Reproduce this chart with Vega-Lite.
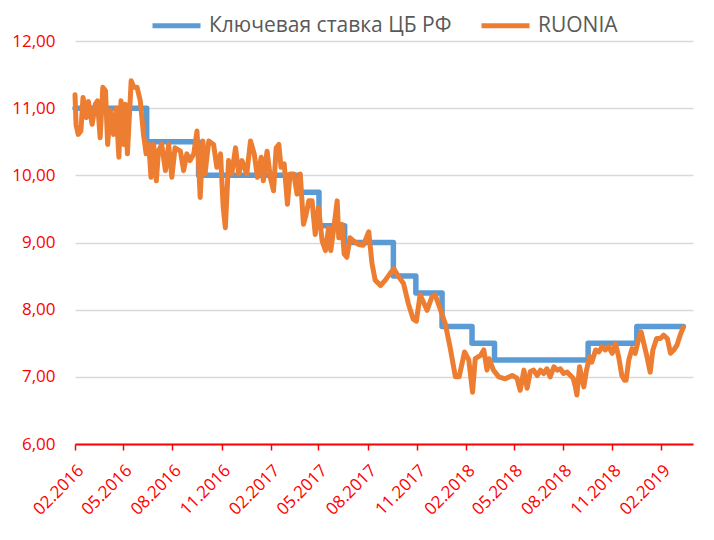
{
  "$schema": "https://vega.github.io/schema/vega-lite/v6.json",
  "width": 618,
  "height": 403,
  "autosize": {"type": "none"},
  "padding": {"left": 75, "top": 41, "right": 21, "bottom": 96},
  "background": "white",
  "config": {
    "view": {"stroke": null},
    "font": "Open Sans",
    "legend": {
      "orient": "none",
      "legendX": 75,
      "legendY": -42,
      "direction": "horizontal",
      "symbolType": "stroke",
      "symbolStrokeWidth": 5,
      "symbolSize": 2304,
      "labelFontSize": 21,
      "labelFont": "Open Sans",
      "labelColor": "#595959",
      "labelOffset": 6,
      "columnPadding": 19,
      "labelLimit": 400
    }
  },
  "data": {
    "values": [
      {"date": "2016-02-01", "series": "Ключевая ставка ЦБ РФ", "value": 11.00},
      {"date": "2016-06-14", "series": "Ключевая ставка ЦБ РФ", "value": 10.50},
      {"date": "2016-09-19", "series": "Ключевая ставка ЦБ РФ", "value": 10.00},
      {"date": "2017-03-27", "series": "Ключевая ставка ЦБ РФ", "value": 9.75},
      {"date": "2017-05-02", "series": "Ключевая ставка ЦБ РФ", "value": 9.25},
      {"date": "2017-06-19", "series": "Ключевая ставка ЦБ РФ", "value": 9.00},
      {"date": "2017-09-18", "series": "Ключевая ставка ЦБ РФ", "value": 8.50},
      {"date": "2017-10-30", "series": "Ключевая ставка ЦБ РФ", "value": 8.25},
      {"date": "2017-12-18", "series": "Ключевая ставка ЦБ РФ", "value": 7.75},
      {"date": "2018-02-12", "series": "Ключевая ставка ЦБ РФ", "value": 7.50},
      {"date": "2018-03-26", "series": "Ключевая ставка ЦБ РФ", "value": 7.25},
      {"date": "2018-09-17", "series": "Ключевая ставка ЦБ РФ", "value": 7.50},
      {"date": "2018-12-17", "series": "Ключевая ставка ЦБ РФ", "value": 7.75},
      {"date": "2019-03-14", "series": "Ключевая ставка ЦБ РФ", "value": 7.75},
      {"date": "2016-02-01", "series": "RUONIA", "value": 11.20},
      {"date": "2016-02-03", "series": "RUONIA", "value": 10.75},
      {"date": "2016-02-07", "series": "RUONIA", "value": 10.61},
      {"date": "2016-02-12", "series": "RUONIA", "value": 10.66},
      {"date": "2016-02-16", "series": "RUONIA", "value": 11.16},
      {"date": "2016-02-22", "series": "RUONIA", "value": 10.86},
      {"date": "2016-02-26", "series": "RUONIA", "value": 11.10},
      {"date": "2016-03-04", "series": "RUONIA", "value": 10.76},
      {"date": "2016-03-10", "series": "RUONIA", "value": 11.06},
      {"date": "2016-03-14", "series": "RUONIA", "value": 11.11},
      {"date": "2016-03-19", "series": "RUONIA", "value": 10.56},
      {"date": "2016-03-24", "series": "RUONIA", "value": 11.31},
      {"date": "2016-03-29", "series": "RUONIA", "value": 11.26},
      {"date": "2016-04-02", "series": "RUONIA", "value": 10.46},
      {"date": "2016-04-07", "series": "RUONIA", "value": 10.96},
      {"date": "2016-04-13", "series": "RUONIA", "value": 10.61},
      {"date": "2016-04-18", "series": "RUONIA", "value": 11.00},
      {"date": "2016-04-23", "series": "RUONIA", "value": 10.27},
      {"date": "2016-04-27", "series": "RUONIA", "value": 11.11},
      {"date": "2016-05-02", "series": "RUONIA", "value": 10.46},
      {"date": "2016-05-05", "series": "RUONIA", "value": 11.06},
      {"date": "2016-05-09", "series": "RUONIA", "value": 10.32},
      {"date": "2016-05-16", "series": "RUONIA", "value": 11.41},
      {"date": "2016-05-21", "series": "RUONIA", "value": 11.31},
      {"date": "2016-05-27", "series": "RUONIA", "value": 11.31},
      {"date": "2016-06-02", "series": "RUONIA", "value": 11.11},
      {"date": "2016-06-08", "series": "RUONIA", "value": 10.61},
      {"date": "2016-06-13", "series": "RUONIA", "value": 10.32},
      {"date": "2016-06-18", "series": "RUONIA", "value": 10.46},
      {"date": "2016-06-22", "series": "RUONIA", "value": 9.97},
      {"date": "2016-06-27", "series": "RUONIA", "value": 10.46},
      {"date": "2016-07-02", "series": "RUONIA", "value": 9.92},
      {"date": "2016-07-06", "series": "RUONIA", "value": 10.36},
      {"date": "2016-07-12", "series": "RUONIA", "value": 10.46},
      {"date": "2016-07-19", "series": "RUONIA", "value": 10.07},
      {"date": "2016-07-25", "series": "RUONIA", "value": 10.46},
      {"date": "2016-07-31", "series": "RUONIA", "value": 9.97},
      {"date": "2016-08-06", "series": "RUONIA", "value": 10.41},
      {"date": "2016-08-16", "series": "RUONIA", "value": 10.36},
      {"date": "2016-08-22", "series": "RUONIA", "value": 10.07},
      {"date": "2016-08-28", "series": "RUONIA", "value": 10.32},
      {"date": "2016-09-03", "series": "RUONIA", "value": 10.22},
      {"date": "2016-09-10", "series": "RUONIA", "value": 10.32},
      {"date": "2016-09-16", "series": "RUONIA", "value": 10.66},
      {"date": "2016-09-22", "series": "RUONIA", "value": 9.67},
      {"date": "2016-09-27", "series": "RUONIA", "value": 10.51},
      {"date": "2016-10-01", "series": "RUONIA", "value": 10.02},
      {"date": "2016-10-08", "series": "RUONIA", "value": 10.51},
      {"date": "2016-10-17", "series": "RUONIA", "value": 10.46},
      {"date": "2016-10-23", "series": "RUONIA", "value": 10.12},
      {"date": "2016-10-30", "series": "RUONIA", "value": 10.32},
      {"date": "2016-11-04", "series": "RUONIA", "value": 9.52},
      {"date": "2016-11-08", "series": "RUONIA", "value": 9.22},
      {"date": "2016-11-14", "series": "RUONIA", "value": 10.22},
      {"date": "2016-11-20", "series": "RUONIA", "value": 10.02},
      {"date": "2016-11-27", "series": "RUONIA", "value": 10.41},
      {"date": "2016-12-03", "series": "RUONIA", "value": 10.02},
      {"date": "2016-12-09", "series": "RUONIA", "value": 10.22},
      {"date": "2016-12-18", "series": "RUONIA", "value": 10.02},
      {"date": "2016-12-25", "series": "RUONIA", "value": 10.51},
      {"date": "2017-01-01", "series": "RUONIA", "value": 10.32},
      {"date": "2017-01-07", "series": "RUONIA", "value": 9.97},
      {"date": "2017-01-14", "series": "RUONIA", "value": 10.27},
      {"date": "2017-01-18", "series": "RUONIA", "value": 9.92},
      {"date": "2017-01-25", "series": "RUONIA", "value": 10.36},
      {"date": "2017-01-31", "series": "RUONIA", "value": 9.97},
      {"date": "2017-02-06", "series": "RUONIA", "value": 9.77},
      {"date": "2017-02-11", "series": "RUONIA", "value": 10.41},
      {"date": "2017-02-16", "series": "RUONIA", "value": 10.46},
      {"date": "2017-02-20", "series": "RUONIA", "value": 10.12},
      {"date": "2017-02-26", "series": "RUONIA", "value": 10.17},
      {"date": "2017-03-04", "series": "RUONIA", "value": 9.57},
      {"date": "2017-03-09", "series": "RUONIA", "value": 10.02},
      {"date": "2017-03-16", "series": "RUONIA", "value": 10.02},
      {"date": "2017-03-22", "series": "RUONIA", "value": 9.72},
      {"date": "2017-03-28", "series": "RUONIA", "value": 10.02},
      {"date": "2017-04-03", "series": "RUONIA", "value": 9.27},
      {"date": "2017-04-08", "series": "RUONIA", "value": 9.42},
      {"date": "2017-04-13", "series": "RUONIA", "value": 9.62},
      {"date": "2017-04-19", "series": "RUONIA", "value": 9.62},
      {"date": "2017-04-25", "series": "RUONIA", "value": 9.12},
      {"date": "2017-05-01", "series": "RUONIA", "value": 9.52},
      {"date": "2017-05-08", "series": "RUONIA", "value": 9.02},
      {"date": "2017-05-14", "series": "RUONIA", "value": 8.88},
      {"date": "2017-05-20", "series": "RUONIA", "value": 9.22},
      {"date": "2017-05-24", "series": "RUONIA", "value": 8.88},
      {"date": "2017-05-29", "series": "RUONIA", "value": 9.17},
      {"date": "2017-06-05", "series": "RUONIA", "value": 9.62},
      {"date": "2017-06-08", "series": "RUONIA", "value": 9.07},
      {"date": "2017-06-14", "series": "RUONIA", "value": 9.27},
      {"date": "2017-06-18", "series": "RUONIA", "value": 8.83},
      {"date": "2017-06-23", "series": "RUONIA", "value": 8.78},
      {"date": "2017-06-29", "series": "RUONIA", "value": 9.07},
      {"date": "2017-07-06", "series": "RUONIA", "value": 9.02},
      {"date": "2017-07-15", "series": "RUONIA", "value": 8.97},
      {"date": "2017-07-24", "series": "RUONIA", "value": 8.96},
      {"date": "2017-08-03", "series": "RUONIA", "value": 9.16},
      {"date": "2017-08-09", "series": "RUONIA", "value": 8.69},
      {"date": "2017-08-15", "series": "RUONIA", "value": 8.44},
      {"date": "2017-08-25", "series": "RUONIA", "value": 8.36},
      {"date": "2017-09-03", "series": "RUONIA", "value": 8.44},
      {"date": "2017-09-12", "series": "RUONIA", "value": 8.54},
      {"date": "2017-09-19", "series": "RUONIA", "value": 8.61},
      {"date": "2017-09-27", "series": "RUONIA", "value": 8.50},
      {"date": "2017-10-07", "series": "RUONIA", "value": 8.39},
      {"date": "2017-10-16", "series": "RUONIA", "value": 8.09},
      {"date": "2017-10-25", "series": "RUONIA", "value": 7.86},
      {"date": "2017-10-31", "series": "RUONIA", "value": 7.83},
      {"date": "2017-11-07", "series": "RUONIA", "value": 8.22},
      {"date": "2017-11-20", "series": "RUONIA", "value": 7.99},
      {"date": "2017-11-29", "series": "RUONIA", "value": 8.19},
      {"date": "2017-12-05", "series": "RUONIA", "value": 8.22},
      {"date": "2017-12-15", "series": "RUONIA", "value": 8.00},
      {"date": "2017-12-24", "series": "RUONIA", "value": 7.79},
      {"date": "2018-01-02", "series": "RUONIA", "value": 7.44},
      {"date": "2018-01-12", "series": "RUONIA", "value": 7.00},
      {"date": "2018-01-19", "series": "RUONIA", "value": 7.00},
      {"date": "2018-01-29", "series": "RUONIA", "value": 7.37},
      {"date": "2018-02-06", "series": "RUONIA", "value": 7.25},
      {"date": "2018-02-13", "series": "RUONIA", "value": 6.77},
      {"date": "2018-02-18", "series": "RUONIA", "value": 7.27},
      {"date": "2018-02-28", "series": "RUONIA", "value": 7.32},
      {"date": "2018-03-06", "series": "RUONIA", "value": 7.40},
      {"date": "2018-03-12", "series": "RUONIA", "value": 7.10},
      {"date": "2018-03-16", "series": "RUONIA", "value": 7.27},
      {"date": "2018-03-24", "series": "RUONIA", "value": 7.10},
      {"date": "2018-04-03", "series": "RUONIA", "value": 7.00},
      {"date": "2018-04-15", "series": "RUONIA", "value": 6.97},
      {"date": "2018-04-28", "series": "RUONIA", "value": 7.02},
      {"date": "2018-05-07", "series": "RUONIA", "value": 6.98},
      {"date": "2018-05-13", "series": "RUONIA", "value": 6.80},
      {"date": "2018-05-20", "series": "RUONIA", "value": 7.10},
      {"date": "2018-05-26", "series": "RUONIA", "value": 6.83},
      {"date": "2018-06-01", "series": "RUONIA", "value": 7.08},
      {"date": "2018-06-07", "series": "RUONIA", "value": 7.10},
      {"date": "2018-06-14", "series": "RUONIA", "value": 7.02},
      {"date": "2018-06-20", "series": "RUONIA", "value": 7.10},
      {"date": "2018-06-26", "series": "RUONIA", "value": 7.05},
      {"date": "2018-07-02", "series": "RUONIA", "value": 7.12},
      {"date": "2018-07-08", "series": "RUONIA", "value": 7.00},
      {"date": "2018-07-15", "series": "RUONIA", "value": 7.15},
      {"date": "2018-07-21", "series": "RUONIA", "value": 7.10},
      {"date": "2018-07-27", "series": "RUONIA", "value": 7.12},
      {"date": "2018-08-02", "series": "RUONIA", "value": 7.05},
      {"date": "2018-08-09", "series": "RUONIA", "value": 7.07},
      {"date": "2018-08-15", "series": "RUONIA", "value": 7.02},
      {"date": "2018-08-20", "series": "RUONIA", "value": 6.98},
      {"date": "2018-08-24", "series": "RUONIA", "value": 6.86},
      {"date": "2018-08-27", "series": "RUONIA", "value": 6.73},
      {"date": "2018-09-01", "series": "RUONIA", "value": 7.15},
      {"date": "2018-09-06", "series": "RUONIA", "value": 6.95},
      {"date": "2018-09-09", "series": "RUONIA", "value": 6.85},
      {"date": "2018-09-14", "series": "RUONIA", "value": 7.10},
      {"date": "2018-09-20", "series": "RUONIA", "value": 7.30},
      {"date": "2018-09-24", "series": "RUONIA", "value": 7.22},
      {"date": "2018-10-01", "series": "RUONIA", "value": 7.40},
      {"date": "2018-10-07", "series": "RUONIA", "value": 7.37},
      {"date": "2018-10-13", "series": "RUONIA", "value": 7.45},
      {"date": "2018-10-19", "series": "RUONIA", "value": 7.40},
      {"date": "2018-10-25", "series": "RUONIA", "value": 7.45},
      {"date": "2018-11-01", "series": "RUONIA", "value": 7.35},
      {"date": "2018-11-07", "series": "RUONIA", "value": 7.50},
      {"date": "2018-11-13", "series": "RUONIA", "value": 7.30},
      {"date": "2018-11-19", "series": "RUONIA", "value": 7.02},
      {"date": "2018-11-24", "series": "RUONIA", "value": 6.95},
      {"date": "2018-11-27", "series": "RUONIA", "value": 6.95},
      {"date": "2018-12-02", "series": "RUONIA", "value": 7.25},
      {"date": "2018-12-08", "series": "RUONIA", "value": 7.42},
      {"date": "2018-12-14", "series": "RUONIA", "value": 7.35},
      {"date": "2018-12-20", "series": "RUONIA", "value": 7.55},
      {"date": "2018-12-25", "series": "RUONIA", "value": 7.67},
      {"date": "2018-12-30", "series": "RUONIA", "value": 7.50},
      {"date": "2019-01-05", "series": "RUONIA", "value": 7.30},
      {"date": "2019-01-11", "series": "RUONIA", "value": 7.07},
      {"date": "2019-01-16", "series": "RUONIA", "value": 7.40},
      {"date": "2019-01-23", "series": "RUONIA", "value": 7.57},
      {"date": "2019-01-30", "series": "RUONIA", "value": 7.57},
      {"date": "2019-02-05", "series": "RUONIA", "value": 7.62},
      {"date": "2019-02-12", "series": "RUONIA", "value": 7.57},
      {"date": "2019-02-18", "series": "RUONIA", "value": 7.35},
      {"date": "2019-02-24", "series": "RUONIA", "value": 7.40},
      {"date": "2019-03-02", "series": "RUONIA", "value": 7.47},
      {"date": "2019-03-08", "series": "RUONIA", "value": 7.62},
      {"date": "2019-03-14", "series": "RUONIA", "value": 7.74}
    ]
  },
  "encoding": {
    "x": {
      "field": "date",
      "type": "temporal",
      "scale": {
        "type": "utc",
        "domain": [
          {"year": 2016, "month": 2, "date": 1, "utc": true},
          {"year": 2019, "month": 4, "date": 1, "utc": true}
        ]
      },
      "axis": {
        "title": null,
        "values": [
          {"year": 2016, "month": 2, "date": 1, "utc": true},
          {"year": 2016, "month": 5, "date": 1, "utc": true},
          {"year": 2016, "month": 8, "date": 1, "utc": true},
          {"year": 2016, "month": 11, "date": 1, "utc": true},
          {"year": 2017, "month": 2, "date": 1, "utc": true},
          {"year": 2017, "month": 5, "date": 1, "utc": true},
          {"year": 2017, "month": 8, "date": 1, "utc": true},
          {"year": 2017, "month": 11, "date": 1, "utc": true},
          {"year": 2018, "month": 2, "date": 1, "utc": true},
          {"year": 2018, "month": 5, "date": 1, "utc": true},
          {"year": 2018, "month": 8, "date": 1, "utc": true},
          {"year": 2018, "month": 11, "date": 1, "utc": true},
          {"year": 2019, "month": 2, "date": 1, "utc": true}
        ],
        "format": "%m.%Y",
        "labelAngle": -45,
        "labelColor": "#ff0000",
        "labelFont": "Open Sans",
        "labelFontSize": 17,
        "labelPadding": 12,
        "labelDx": -5,
        "labelFlush": false,
        "labelOverlap": false,
        "domainColor": "#ff0000",
        "domainWidth": 2,
        "tickColor": "#ff0000",
        "tickWidth": 1.5,
        "tickSize": 6,
        "grid": false,
        "zindex": 1
      }
    },
    "y": {
      "field": "value",
      "type": "quantitative",
      "scale": {"domain": [6, 12], "nice": false, "zero": false},
      "axis": {
        "title": null,
        "values": [6, 7, 8, 9, 10, 11, 12],
        "labelExpr": "replace(format(datum.value, '.2f'), '.', ',')",
        "labelColor": "#ff0000",
        "labelFont": "Open Sans",
        "labelFontSize": 17,
        "labelPadding": 20,
        "domain": false,
        "ticks": false,
        "grid": true,
        "gridColor": "#d9d9d9",
        "gridWidth": 1.5
      }
    },
    "color": {
      "field": "series",
      "type": "nominal",
      "scale": {
        "domain": ["Ключевая ставка ЦБ РФ", "RUONIA"],
        "range": ["#5b9bd5", "#ed7d31"]
      },
      "legend": {"title": null}
    }
  },
  "layer": [
    {
      "transform": [{"filter": "datum.series === 'Ключевая ставка ЦБ РФ'"}],
      "mark": {"type": "line", "interpolate": "step-after", "strokeWidth": 5.5, "strokeJoin": "round", "strokeCap": "round"}
    },
    {
      "transform": [{"filter": "datum.series === 'RUONIA'"}],
      "mark": {"type": "line", "strokeWidth": 5, "strokeJoin": "round", "strokeCap": "round"}
    }
  ]
}
